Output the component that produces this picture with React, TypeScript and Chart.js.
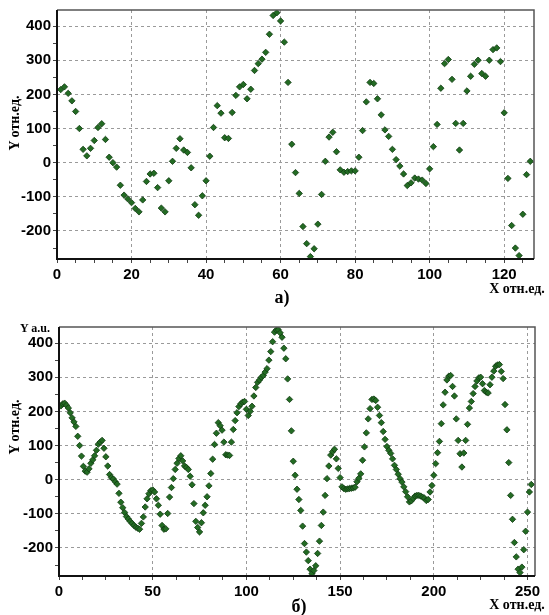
import React, { useEffect, useRef } from 'react';
import { Chart, registerables } from 'chart.js';

Chart.register(...registerables);

// Top chart (а): y values at x = 1..127
const topValues: number[] = [
  214, 222, 203, 181, 150, 100, 39, 20, 42, 65,
  103, 114, 68, 16, 0, -13, -66, -95, -106, -117,
  -134, -144, -109, -55, -33, -31, -73, -133, -144, -53,
  4, 42, 70, 37, 30, -15, -123, -154, -97, -53,
  19, 103, 167, 145, 73, 71, 147, 197, 222, 229,
  187, 215, 270, 290, 303, 323, 376, 431, 439, 415,
  353, 235, 54, -29, -90, -187, -237, -275, -252, -180,
  -93, 4, 75, 89, 32, -21, -28, -26, -24, -24,
  16, 94, 178, 235, 232, 187, 140, 96, 77, 39,
  9, -10, -33, -67, -59, -45, -48, -51, -61, -18,
  47, 112, 218, 290, 302, 244, 115, 37, 115, 210,
  253, 288, 300, 261, 253, 300, 331, 336, 296, 146,
  -46, -184, -250, -272, -151, -35, 4,
];

// Bottom chart (б): y values at x = 1..252
const bottomValues: number[] = [
  216, 222, 224, 218, 210, 196, 181, 169, 156, 127,
  100, 69, 39, 25, 22, 32, 48, 58, 70, 86,
  104, 110, 115, 92, 67, 40, 15, 6, 2, -6,
  -13, -40, -66, -82, -96, -108, -115, -122, -128, -134,
  -139, -142, -145, -128, -109, -80, -56, -41, -32, -30,
  -36, -56, -75, -101, -134, -145, -144, -99, -51, -23,
  3, 30, 48, 62, 70, 55, 40, 36, 30, 10,
  -15, -70, -122, -140, -153, -126, -97, -75, -50, -18,
  18, 60, 103, 136, 167, 158, 145, 110, 73, 72,
  71, 110, 147, 173, 196, 214, 222, 227, 229, 206,
  188, 200, 215, 245, 270, 285, 292, 300, 305, 315,
  325, 350, 375, 404, 432, 438, 439, 430, 417, 385,
  354, 295, 235, 143, 54, 13, -28, -58, -90, -136,
  -187, -212, -237, -262, -275, -266, -252, -216, -180, -134,
  -95, -46, 3, 40, 72, 82, 89, 61, 33, 6,
  -21, -26, -28, -27, -26, -25, -24, -22, -6, 4,
  17, 57, 96, 137, 178, 208, 235, 236, 232, 212,
  188, 167, 141, 118, 97, 86, 77, 61, 42, 30,
  16, 3, -7, -21, -35, -50, -65, -62, -55, -48,
  -46, -46, -48, -51, -54, -61, -58, -36, -17, 13,
  47, 79, 112, 164, 219, 256, 292, 303, 305, 273,
  245, 178, 115, 76, 37, 78, 115, 162, 210, 229,
  252, 273, 289, 298, 300, 281, 261, 256, 254, 278,
  300, 318, 332, 336, 337, 317, 296, 220, 146, 50,
  -46, -116, -184, -226, -262, -272, -256, -205, -151, -95,
  -36, -14,
];

const topXLabels: number[] = [0, 20, 40, 60, 80, 100, 120];
const bottomXLabels: number[] = [0, 50, 100, 150, 200, 250];
const yLabels: number[] = [-200, -100, 0, 100, 200, 300, 400];

const Y_MIN = -282;
const Y_MAX = 447;

const tickFont = { family: '"Liberation Sans", Arial, sans-serif', size: 15, weight: 'bold' as const };

const framePlugin = {
  id: 'frameBox',
  afterDraw(chart: any) {
    const { ctx, chartArea: a } = chart;
    ctx.save();
    ctx.setLineDash([]);
    ctx.strokeStyle = '#555555';
    ctx.lineWidth = 1.5;
    ctx.beginPath();
    ctx.moveTo(a.left, a.top);
    ctx.lineTo(a.right, a.top);
    ctx.lineTo(a.right, a.bottom);
    ctx.stroke();
    ctx.strokeStyle = '#111111';
    ctx.lineWidth = 2;
    ctx.beginPath();
    ctx.moveTo(a.left, a.top);
    ctx.lineTo(a.left, a.bottom);
    ctx.lineTo(a.right, a.bottom);
    ctx.stroke();
    ctx.restore();
  },
};

interface Layout {
  xMax: number;
  xStep: number;
  xLabels: number[];
  left: number;
  right: number;
  top: number;
  xAxisH: number;
}

function buildConfig(values: number[], L: Layout): any {
  const points = values.map((v, i) => ({ x: i + 1, y: v }));
  const near = (v: number, arr: number[]) => arr.some((a) => Math.abs(a - v) < 1e-6);
  return {
    type: 'scatter',
    data: {
      datasets: [
        {
          data: points,
          pointStyle: 'rectRot',
          pointRadius: 3.2,
          pointBackgroundColor: '#236b23',
          pointBorderColor: '#0f3a10',
          pointBorderWidth: 0.8,
        },
      ],
    },
    options: {
      animation: false,
      responsive: false,
      events: [],
      layout: { padding: { left: 0, right: L.right, top: L.top, bottom: 0 } },
      plugins: { legend: { display: false }, tooltip: { enabled: false } },
      scales: {
        x: {
          type: 'linear',
          min: 0,
          max: L.xMax,
          afterBuildTicks: (s: any) => {
            const t: any[] = [];
            for (let i = 0; i * L.xStep <= L.xMax + 1e-9; i++) t.push({ value: i * L.xStep });
            s.ticks = t;
          },
          afterFit: (s: any) => {
            s.height = L.xAxisH;
            s.paddingLeft = 0;
            s.paddingRight = 0;
            s.paddingTop = 0;
            s.paddingBottom = 0;
          },
          ticks: {
            autoSkip: false,
            maxRotation: 0,
            minRotation: 0,
            padding: 3,
            color: '#000000',
            font: tickFont,
            callback: (v: number) => (near(v, L.xLabels) ? String(v) : ''),
          },
          grid: {
            color: (c: any) => (c.tick && near(c.tick.value, L.xLabels) ? '#9a9a9a' : 'rgba(0,0,0,0)'),
            tickColor: '#444444',
            tickLength: 4,
            lineWidth: 1,
          },
          border: { display: false, dash: [3, 3] },
        },
        y: {
          type: 'linear',
          min: Y_MIN,
          max: Y_MAX,
          afterBuildTicks: (s: any) => {
            const t: any[] = [];
            for (let v = -250; v <= 400; v += 50) t.push({ value: v });
            s.ticks = t;
          },
          afterFit: (s: any) => {
            s.width = L.left;
            s.paddingLeft = 0;
            s.paddingRight = 0;
            s.paddingTop = 0;
            s.paddingBottom = 0;
          },
          ticks: {
            autoSkip: false,
            padding: 2,
            color: '#000000',
            font: tickFont,
            callback: (v: number) => (near(v, yLabels) ? String(v) : ''),
          },
          grid: {
            color: (c: any) => (c.tick && near(c.tick.value, yLabels) ? '#9a9a9a' : 'rgba(0,0,0,0)'),
            tickColor: '#444444',
            tickLength: 4,
            lineWidth: 1,
          },
          border: { display: false, dash: [3, 3] },
        },
      },
    },
    plugins: [framePlugin],
  };
}

const serif = '"Liberation Serif", "Times New Roman", serif';

const label = (extra: React.CSSProperties): React.CSSProperties => ({
  position: 'absolute',
  fontFamily: serif,
  fontWeight: 'bold',
  color: '#000',
  whiteSpace: 'nowrap',
  lineHeight: 1,
  ...extra,
});

export default function App() {
  const topRef = useRef<HTMLCanvasElement | null>(null);
  const botRef = useRef<HTMLCanvasElement | null>(null);

  useEffect(() => {
    const c1 = new Chart(
      topRef.current as HTMLCanvasElement,
      buildConfig(topValues, {
        xMax: 128,
        xStep: 5,
        xLabels: topXLabels,
        left: 57,
        right: 15,
        top: 10,
        xAxisH: 41,
      })
    );
    const c2 = new Chart(
      botRef.current as HTMLCanvasElement,
      buildConfig(bottomValues, {
        xMax: 254,
        xStep: 12.5,
        xLabels: bottomXLabels,
        left: 59,
        right: 14,
        top: 27,
        xAxisH: 39,
      })
    );
    return () => {
      c1.destroy();
      c2.destroy();
    };
  }, []);

  return (
    <div
      style={{
        position: 'absolute',
        left: 0,
        top: 0,
        width: 549,
        height: 615,
        background: '#ffffff',
        overflow: 'hidden',
      }}
    >
      <canvas ref={topRef} width={549} height={300} style={{ position: 'absolute', left: 0, top: 0 }} />
      <canvas ref={botRef} width={549} height={315} style={{ position: 'absolute', left: 0, top: 300 }} />

      <div style={label({ left: 15, top: 123, fontSize: 14, transform: 'translate(-50%, -50%) rotate(-90deg)' })}>
        Y отн.ед.
      </div>
      <div style={label({ left: 517, top: 289, fontSize: 14, transform: 'translate(-50%, -50%)' })}>X отн.ед.</div>
      <div style={label({ left: 282, top: 297, fontSize: 18, transform: 'translate(-50%, -50%)' })}>а)</div>

      <div style={label({ left: 20, top: 322, fontSize: 12 })}>Y a.u.</div>
      <div style={label({ left: 15, top: 427, fontSize: 14, transform: 'translate(-50%, -50%) rotate(-90deg)' })}>
        Y отн.ед.
      </div>
      <div style={label({ left: 517, top: 605, fontSize: 14, transform: 'translate(-50%, -50%)' })}>X отн.ед.</div>
      <div style={label({ left: 299, top: 606, fontSize: 18, transform: 'translate(-50%, -50%)' })}>б)</div>
    </div>
  );
}
